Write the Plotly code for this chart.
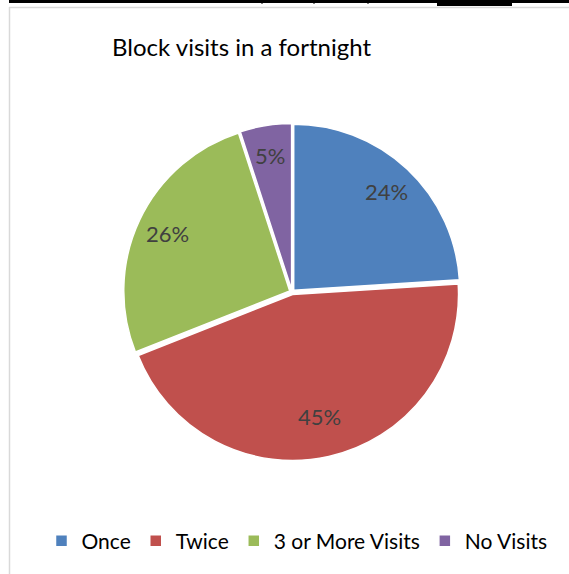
import math
import plotly.graph_objects as go

categories = ["Once", "Twice", "3 or More Visits", "No Visits"]
values = [24, 45, 26, 5]
colors = ["#4F81BD", "#C0504D", "#9BBB59", "#8064A2"]
title_text = "Block visits in a fortnight"

W, H = 569, 574
FONT = "Lato"

def px(x):
    return x / W

def py(y):
    return 1 - y / H

cx, cy, r = 292, 292, 166
pull = 0.015

fig = go.Figure(go.Pie(
    labels=categories,
    values=values,
    marker=dict(colors=colors, line=dict(color="white", width=1.5)),
    sort=False,
    direction="clockwise",
    rotation=0,
    pull=[pull] * len(values),
    textinfo="none",
    hoverinfo="label+percent",
    domain=dict(x=[px(cx - r * (1 + pull)), px(cx + r * (1 + pull))],
                y=[py(cy + r * (1 + pull)), py(cy - r * (1 + pull))]),
    showlegend=True,
))

# percentage labels placed along each slice's bisector (computed from values)
total = sum(values)
annotations = []
acc = 0.0
for v in values:
    mid = (acc + v / 2) / total * 2 * math.pi
    acc += v
    k = 0.83 if v < 40 else 0.77
    lx = cx + k * r * math.sin(mid)
    ly = cy - k * r * math.cos(mid)
    annotations.append(dict(
        text=f"{round(v / total * 100)}%", x=px(lx), y=py(ly),
        xref="paper", yref="paper", xanchor="center", yanchor="middle",
        showarrow=False, font=dict(family=FONT, size=22, color="#404040"),
    ))

annotations.append(dict(
    text=title_text, x=px(110), y=py(46), xref="paper", yref="paper",
    xanchor="left", yanchor="middle", showarrow=False,
    font=dict(family=FONT, size=24, color="black"),
))

shapes = [
    dict(type="rect", x0=px(9), x1=px(569), y0=py(0), y1=py(3), fillcolor="black", line_width=0),
    dict(type="rect", x0=px(437), x1=px(512), y0=py(0), y1=py(6), fillcolor="black", line_width=0),
    dict(type="line", x0=px(9), x1=px(569), y0=py(7.5), y1=py(7.5), line=dict(color="#D9D9D9", width=1.5)),
    dict(type="line", x0=px(9.5), x1=px(9.5), y0=py(7), y1=py(574), line=dict(color="#D9D9D9", width=1.5)),
]
for tx in [262, 314, 368]:
    shapes.append(dict(type="line", x0=px(tx), x1=px(tx), y0=py(0), y1=py(4), line=dict(color="black", width=1)))

fig.update_layout(
    width=W, height=H,
    margin=dict(l=0, r=0, t=0, b=0),
    paper_bgcolor="white",
    plot_bgcolor="white",
    font=dict(family=FONT, color="black"),
    shapes=shapes,
    annotations=annotations,
    legend=dict(
        orientation="h", x=px(297), xanchor="center", y=py(541), yanchor="middle",
        font=dict(family=FONT, size=21, color="black"),
        itemwidth=30, traceorder="normal",
        bgcolor="rgba(0,0,0,0)",
    ),
)

fig.write_html("out.html")
